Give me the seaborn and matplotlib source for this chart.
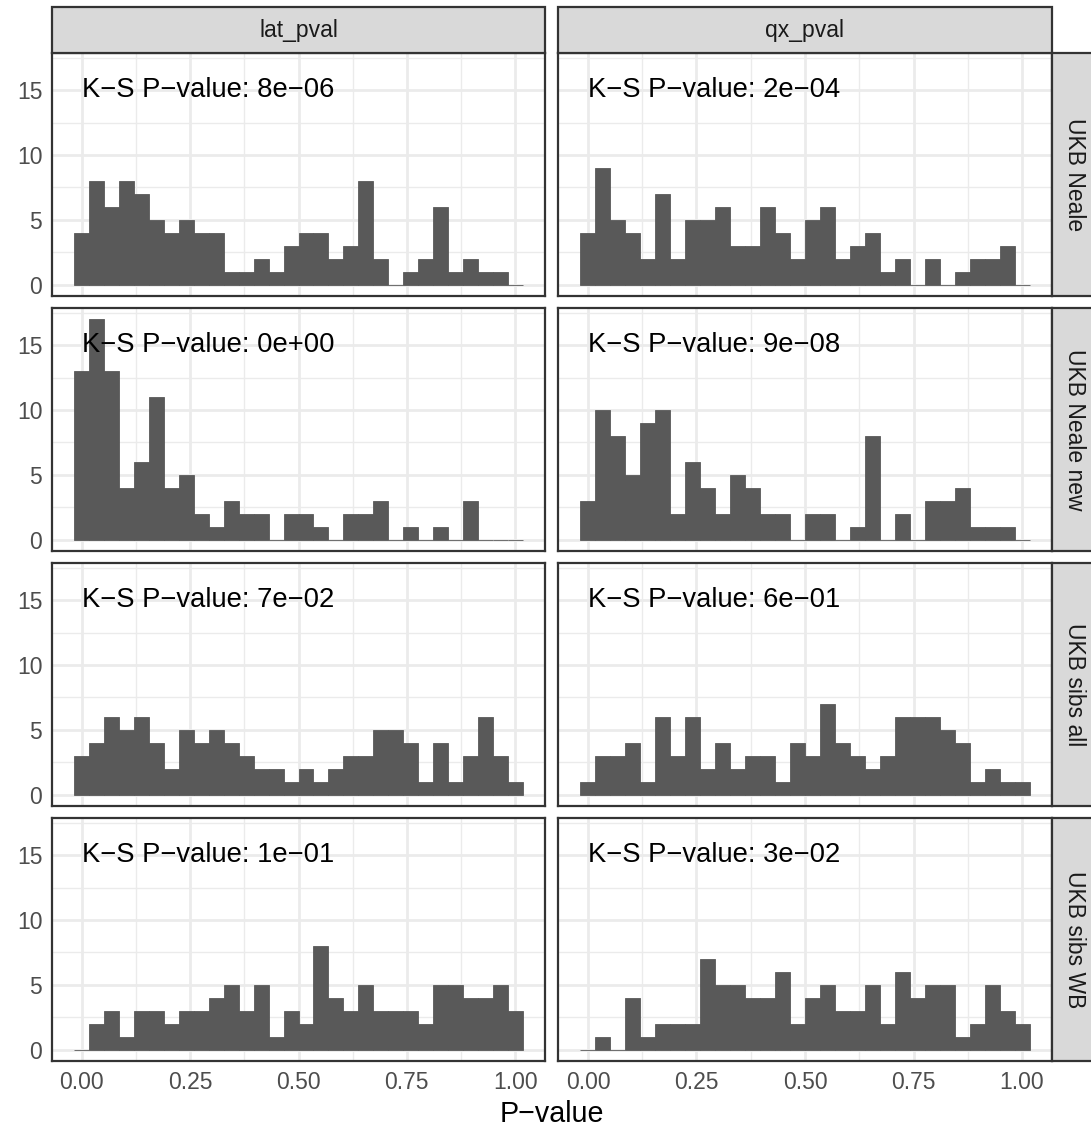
import numpy as np
import pandas as pd
import matplotlib
matplotlib.use("Agg")
import matplotlib.pyplot as plt
import seaborn as sns
from matplotlib.patches import Rectangle
from matplotlib.ticker import MultipleLocator

# facet labels
pval_types = ["lat_pval", "qx_pval"]
datasets = ["UKB Neale", "UKB Neale new", "UKB sibs all", "UKB sibs WB"]

# histogram counts, 30 bins centred on 0, 1/29, ..., 1
neale_lat = [4, 8, 6, 8, 7, 5, 4, 5, 4, 4, 1, 1, 2, 1, 3, 4, 4, 2, 3, 8, 2, 0, 1, 2, 6, 1, 2, 1, 1, 0]
neale_qx = [4, 9, 5, 4, 2, 7, 2, 5, 5, 6, 3, 3, 6, 4, 2, 5, 6, 2, 3, 4, 1, 2, 0, 2, 0, 1, 2, 2, 3, 0]
neale_new_lat = [13, 17, 13, 4, 6, 11, 4, 5, 2, 1, 3, 2, 2, 0, 2, 2, 1, 0, 2, 2, 3, 0, 1, 0, 1, 0, 3, 0, 0, 0]
neale_new_qx = [3, 10, 8, 5, 9, 10, 2, 6, 4, 2, 5, 4, 2, 2, 0, 2, 2, 0, 1, 8, 0, 2, 0, 3, 3, 4, 1, 1, 1, 0]
sibs_all_lat = [3, 4, 6, 5, 6, 4, 2, 5, 4, 5, 4, 3, 2, 2, 1, 2, 1, 2, 3, 3, 5, 5, 4, 1, 4, 1, 3, 6, 3, 1]
sibs_all_qx = [1, 3, 3, 4, 1, 6, 3, 6, 2, 4, 2, 3, 3, 1, 4, 3, 7, 4, 3, 2, 3, 6, 6, 6, 5, 4, 1, 2, 1, 1]
sibs_wb_lat = [0, 2, 3, 1, 3, 3, 2, 3, 3, 4, 5, 3, 5, 1, 3, 2, 8, 4, 3, 5, 3, 3, 3, 2, 5, 5, 4, 4, 5, 3]
sibs_wb_qx = [0, 1, 0, 4, 1, 2, 2, 2, 7, 5, 5, 4, 4, 6, 2, 4, 5, 3, 3, 5, 2, 6, 4, 5, 5, 1, 2, 5, 3, 2]

# K-S p-value annotations
ks_lat = ["8e\u221206", "0e+00", "7e\u221202", "1e\u221201"]
ks_qx = ["2e\u221204", "9e\u221208", "6e\u221201", "3e\u221202"]

counts = {
    ("UKB Neale", "lat_pval"): neale_lat,
    ("UKB Neale", "qx_pval"): neale_qx,
    ("UKB Neale new", "lat_pval"): neale_new_lat,
    ("UKB Neale new", "qx_pval"): neale_new_qx,
    ("UKB sibs all", "lat_pval"): sibs_all_lat,
    ("UKB sibs all", "qx_pval"): sibs_all_qx,
    ("UKB sibs WB", "lat_pval"): sibs_wb_lat,
    ("UKB sibs WB", "qx_pval"): sibs_wb_qx,
}

n_bins = 30
bin_width = 1 / (n_bins - 1)
centers = np.arange(n_bins) * bin_width
edges = [float(e) for e in np.arange(n_bins + 1) * bin_width - bin_width / 2]

rows = []
for (ds, pt), vals in counts.items():
    for c, v in zip(centers, vals):
        rows.append({"dataset": ds, "pval_type": pt, "pvalue": c, "n": v})
df = pd.DataFrame(rows)

sns.set_style("white")
plt.rcParams["font.family"] = ["Liberation Sans", "DejaVu Sans"]

W, H = 1091, 1133
fig = plt.figure(figsize=(W / 100, H / 100), dpi=100)


def frac(x0, y0, x1, y1):
    return [x0 / W, 1 - y1 / H, (x1 - x0) / W, (y1 - y0) / H]


col_x = [(52, 545), (558, 1052)]
row_y = [(53, 296), (308, 551), (563, 806), (818, 1061)]
border = "#333333"
bar_col = "#595959"
small_fs = 16.5

for i, ds in enumerate(datasets):
    for j, pt in enumerate(pval_types):
        ax = fig.add_axes(frac(col_x[j][0], row_y[i][0], col_x[j][1], row_y[i][1]))
        sub = df[(df.dataset == ds) & (df.pval_type == pt)]
        sns.histplot(data=sub, x="pvalue", weights="n", bins=edges, ax=ax,
                     color=bar_col, alpha=1, edgecolor=bar_col, linewidth=0.6)
        ax.set_xlim(-0.069, 1.069)
        ax.set_ylim(-0.85, 17.85)
        ax.xaxis.set_major_locator(MultipleLocator(0.25))
        ax.xaxis.set_minor_locator(MultipleLocator(0.125))
        ax.yaxis.set_major_locator(MultipleLocator(5))
        ax.yaxis.set_minor_locator(MultipleLocator(2.5))
        ax.set_axisbelow(True)
        ax.grid(which="major", color="#EBEBEB", linewidth=2.0)
        ax.grid(which="minor", color="#EBEBEB", linewidth=1.0)
        for s in ax.spines.values():
            s.set_color(border)
            s.set_linewidth(1.6)
        ax.set_xlabel("")
        ax.set_ylabel("")
        ax.tick_params(which="minor", length=0)
        ax.tick_params(which="major", direction="out", length=4, width=1.3,
                       color=border, labelcolor="#4D4D4D", labelsize=small_fs, pad=3)
        if i == len(datasets) - 1:
            ax.set_xticks([0, 0.25, 0.5, 0.75, 1.0])
            ax.set_xticklabels(["0.00", "0.25", "0.50", "0.75", "1.00"])
        else:
            ax.tick_params(axis="x", length=0, labelbottom=False)
        if j == 0:
            ax.set_yticks([0, 5, 10, 15])
            ax.set_yticklabels(["0", "5", "10", "15"])
        else:
            ax.tick_params(axis="y", length=0, labelleft=False)
        label = (ks_lat if j == 0 else ks_qx)[i]
        ax.text(0, 15, "K\u2212S P\u2212value: " + label, ha="left", va="center",
                fontsize=19.7, color="black")

# column strips
for j, pt in enumerate(pval_types):
    x0, x1 = col_x[j]
    fig.add_artist(Rectangle((x0 / W, 1 - 53 / H), (x1 - x0) / W, 46 / H,
                             transform=fig.transFigure, facecolor="#D9D9D9",
                             edgecolor=border, linewidth=1.6))
    fig.text((x0 + x1) / 2 / W, 1 - 30 / H, pt, ha="center", va="center",
             fontsize=small_fs, color="#1A1A1A")

# row strips
for i, ds in enumerate(datasets):
    y0, y1 = row_y[i]
    fig.add_artist(Rectangle((1052 / W, 1 - y1 / H), 46 / W, (y1 - y0) / H,
                             transform=fig.transFigure, facecolor="#D9D9D9",
                             edgecolor=border, linewidth=1.6))
    fig.text(1075 / W, 1 - (y0 + y1) / 2 / H, ds, ha="center", va="center",
             rotation=270, fontsize=small_fs, color="#1A1A1A")

fig.text((52 + 1052) / 2 / W, 1 - 1114 / H, "P\u2212value", ha="center", va="center",
         fontsize=20.6, color="black")

fig.savefig("out.png", dpi=100)
